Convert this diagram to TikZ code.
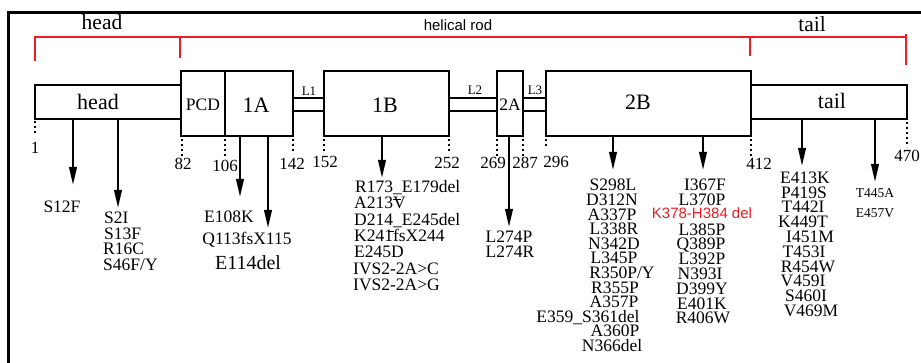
\documentclass[tikz,border=0pt]{standalone}
\usepackage{fontspec}
\setmainfont{Liberation Serif}
\newfontfamily\sansf{Liberation Sans}
\usetikzlibrary{arrows.meta}
\definecolor{bracketred}{RGB}{237,28,36}
\begin{document}
\begin{tikzpicture}[x=1pt,y=-1pt,
  dbox/.style={draw, line width=2.2pt, inner sep=0pt, outer sep=0pt, anchor=north west, fill=white},
  lnk/.style={draw, line width=2.2pt, inner sep=0pt, outer sep=0pt, anchor=north west},
  arr/.style={line width=2.2pt, -{Triangle[length=18pt,width=7.5pt]}},
  dotln/.style={line width=2pt, dash pattern=on 2pt off 3pt},
  redln/.style={draw=bracketred, line width=2.5pt},
  big/.style={inner sep=0pt, font=\fontsize{22}{22}\selectfont},
  mid/.style={inner sep=0pt, font=\fontsize{17.5}{17.5}\selectfont},
  num/.style={inner sep=0pt, anchor=base, text height=11pt, text depth=0pt, font=\fontsize{17}{17}\selectfont},
  mut/.style={inner sep=0pt, anchor=base, text height=11pt, text depth=0pt, font=\fontsize{17.5}{14.6}\selectfont},
  mutl/.style={inner sep=0pt, anchor=base west, text height=11pt, text depth=0pt, font=\fontsize{17.5}{14.6}\selectfont},
  small/.style={inner sep=0pt, anchor=base, text height=9pt, text depth=0pt, font=\fontsize{13.5}{13.5}\selectfont},
  lk/.style={inner sep=0pt, font=\fontsize{13}{13}\selectfont}]
\useasboundingbox (0,0) rectangle (921,363);
% frame
\draw[line width=3pt] (8,370) -- (8,13) -- (930,13);
% red brackets
\draw[redln] (35,61) -- (35,37) -- (906,37);
\draw[redln] (180,37) -- (180,58);
\draw[redln] (750,37) -- (750,56);
\draw[redln] (906,34) -- (906,65);
\node[inner sep=0pt, anchor=base, font=\fontsize{21.5}{21.5}\selectfont] (thead) at (102,30) {head};
\node[inner sep=0pt, anchor=base, font=\sansf\fontsize{15}{15}\selectfont] (trod) at (458,31) {helical rod};
\node[inner sep=0pt, anchor=base, font=\fontsize{21.5}{21.5}\selectfont] (ttail) at (812,32) {tail};
% linkers
\node[lnk, minimum width=31pt, minimum height=13pt] (l1) at (293,98) {};
\node[lnk, minimum width=48pt, minimum height=13pt] (l2) at (449,98) {};
\node[lnk, minimum width=23pt, minimum height=13pt] (l3) at (523,98) {};
% boxes
\node[dbox, minimum width=146pt, minimum height=34pt] (hd) at (35,85) {};
\node[dbox, minimum width=44pt, minimum height=65pt] (pcd) at (181,71) {};
\node[dbox, minimum width=68pt, minimum height=65pt] (b1a) at (225,71) {};
\node[dbox, minimum width=125pt, minimum height=65pt] (b1b) at (324,71) {};
\node[dbox, minimum width=26pt, minimum height=65pt] (b2a) at (497,71) {};
\node[dbox, minimum width=205pt, minimum height=65pt] (b2b) at (546,71) {};
\node[dbox, minimum width=156pt, minimum height=34pt] (tl) at (751,85) {};
% box labels
\node[big] (lhd) at (98,101.5) {head};
\node[mid] (lpcd) at (203,104.7) {PCD};
\node[big] (l1a) at (256,105) {1A};
\node[big] (l1b) at (385,105) {1B};
\node[mid] (l2a) at (510,104.7) {2A};
\node[big] (l2b) at (638,102.5) {2B};
\node[big] (ltl) at (832,101) {tail};
\node[lk] (tl1) at (309,91) {L1};
\node[lk] (tl2) at (475,90) {L2};
\node[lk] (tl3) at (535,90) {L3};
% dotted position markers
\draw[dotln] (35,121) -- (35,134);
\draw[dotln] (182,139) -- (182,156);
\draw[dotln] (225,139) -- (225,156);
\draw[dotln] (293,139) -- (293,151);
\draw[dotln] (324,139) -- (324,151);
\draw[dotln] (449,139) -- (449,151);
\draw[dotln] (497,139) -- (497,156);
\draw[dotln] (523,139) -- (523,156);
\draw[dotln] (546,139) -- (546,146);
\draw[dotln] (751,139) -- (751,156);
\draw[dotln] (907,122) -- (907,147);
\node[num] (n1) at (35,154) {1};
\node[num] (n82) at (183,170) {82};
\node[num] (n106) at (225,172) {106};
\node[num] (n142) at (292,170) {142};
\node[num] (n152) at (325,168) {152};
\node[num] (n252) at (447,169) {252};
\node[num] (n269) at (493,169) {269};
\node[num] (n287) at (525,169) {287};
\node[num] (n296) at (556,168) {296};
\node[num] (n412) at (759,170) {412};
\node[num] (n470) at (907,162) {470};
% arrow tips
\coordinate (a1) at (73,185);
\coordinate (a2) at (118,208);
\coordinate (a3) at (240,197);
\coordinate (a4) at (268,228);
\coordinate (a5) at (382,178);
\coordinate (a6) at (509,227);
\coordinate (a7) at (613,170);
\coordinate (a8) at (703,170);
\coordinate (a9) at (802,166);
\coordinate (a10) at (875,182);
\draw[arr] (a1 |- hd.south) -- (a1);
\draw[arr] (a2 |- hd.south) -- (a2);
\draw[arr] (a3 |- b1a.south) -- (a3);
\draw[arr] (a4 |- b1a.south) -- (a4);
\draw[arr] (a5 |- b1b.south) -- (a5);
\draw[arr] (a6 |- b2a.south) -- (a6);
\draw[arr] (a7 |- b2b.south) -- (a7);
\draw[arr] (a8 |- b2b.south) -- (a8);
\draw[arr] (a9 |- tl.south) -- (a9);
\draw[arr] (a10 |- tl.south) -- (a10);
% head mutations
\node[mut] (m12) at (62,213) {S12F};
\node[mutl] (h1) at (104,224) {S2I};
\node[mutl] (h2) at (104,239.5) {S13F};
\node[mutl] (h3) at (103,255) {R16C};
\node[mutl] (h4) at (103,270.5) {S46F/Y};
% 1A mutations
\node[mut] (e108) at (229,223) {E108K};
\node[mut] (q113) at (247,245) {Q113fsX115};
\node[inner sep=0pt, anchor=base, text height=13pt, text depth=0pt, font=\fontsize{20}{20}\selectfont] (e114) at (248,270) {E114del};
% 1B mutations
\node[mutl] (b1) at (355,192.5) {R173\_E179del};
\node[mutl] (b2) at (354,209) {A213V};
\node[mutl] (b3) at (354,225.4) {D214\_E245del};
\node[mutl] (b4) at (354,241.7) {K241fsX244};
\node[mutl] (b5) at (354,258) {E245D};
\node[mutl] (b6) at (353,274.3) {IVS2-2A>C};
\node[mutl] (b7) at (353,290.6) {IVS2-2A>G};
\draw[line width=0.8pt] (393,199) -- (401,199);
\draw[line width=0.8pt] (388,231.5) -- (394,231.5);
% 2A mutations
\node[mut] (c1) at (509,243) {L274P};
\node[mut] (c2) at (510,258) {L274R};
% 2B mutations col 1
\node[mut] (d1) at (613,191) {S298L};
\node[mut] (d2) at (612,205.6) {D312N};
\node[mut] (d3) at (612,220.2) {A337P};
\node[mut] (d4) at (614,234.8) {L338R};
\node[mut] (d5) at (614,249.4) {N342D};
\node[mut] (d6) at (614,264) {L345P};
\node[mut] (d7) at (622,278.6) {R350P/Y};
\node[mut] (d8) at (615,293.2) {R355P};
\node[mut] (d9) at (614,307.8) {A357P};
\node[mut] (d10) at (588,322.4) {E359\_S361del};
\node[mut] (d11) at (615,337) {A360P};
\node[mut] (d12) at (612,351.6) {N366del};
% 2B mutations col 2
\node[mut] (e1) at (705,190.7) {I367F};
\node[mut] (e2) at (702,205.5) {L370P};
\node[inner sep=0pt, anchor=base, text height=10.5pt, text depth=0pt, text=bracketred, font=\sansf\fontsize{15}{15}\selectfont] (e3) at (702,218.5) {K378-H384 del};
\node[mut] (e4) at (702,235.1) {L385P};
\node[mut] (e5) at (701,249.9) {Q389P};
\node[mut] (e6) at (702,264.7) {L392P};
\node[mut] (e7) at (700,279.5) {N393I};
\node[mut] (e8) at (702,294.3) {D399Y};
\node[mut] (e9) at (702,309.1) {E401K};
\node[mut] (e10) at (703,323.9) {R406W};
% tail mutations
\node[mut] (f1) at (805,183.3) {E413K};
\node[mut] (f2) at (804,198.1) {P419S};
\node[mut] (f3) at (803,212.9) {T442I};
\node[mut] (f4) at (803,227.7) {K449T};
\node[mut] (f5) at (810,242.5) {I451M};
\node[mut] (f6) at (804,257.3) {T453I};
\node[mut] (f7) at (808,272.1) {R454W};
\node[mut] (f8) at (803,286.9) {V459I};
\node[mut] (f9) at (806,301.7) {S460I};
\node[mut] (f10) at (811,316.5) {V469M};
\node[small] (g1) at (875,198) {T445A};
\node[small] (g2) at (875,218) {E457V};
\end{tikzpicture}
\end{document}
